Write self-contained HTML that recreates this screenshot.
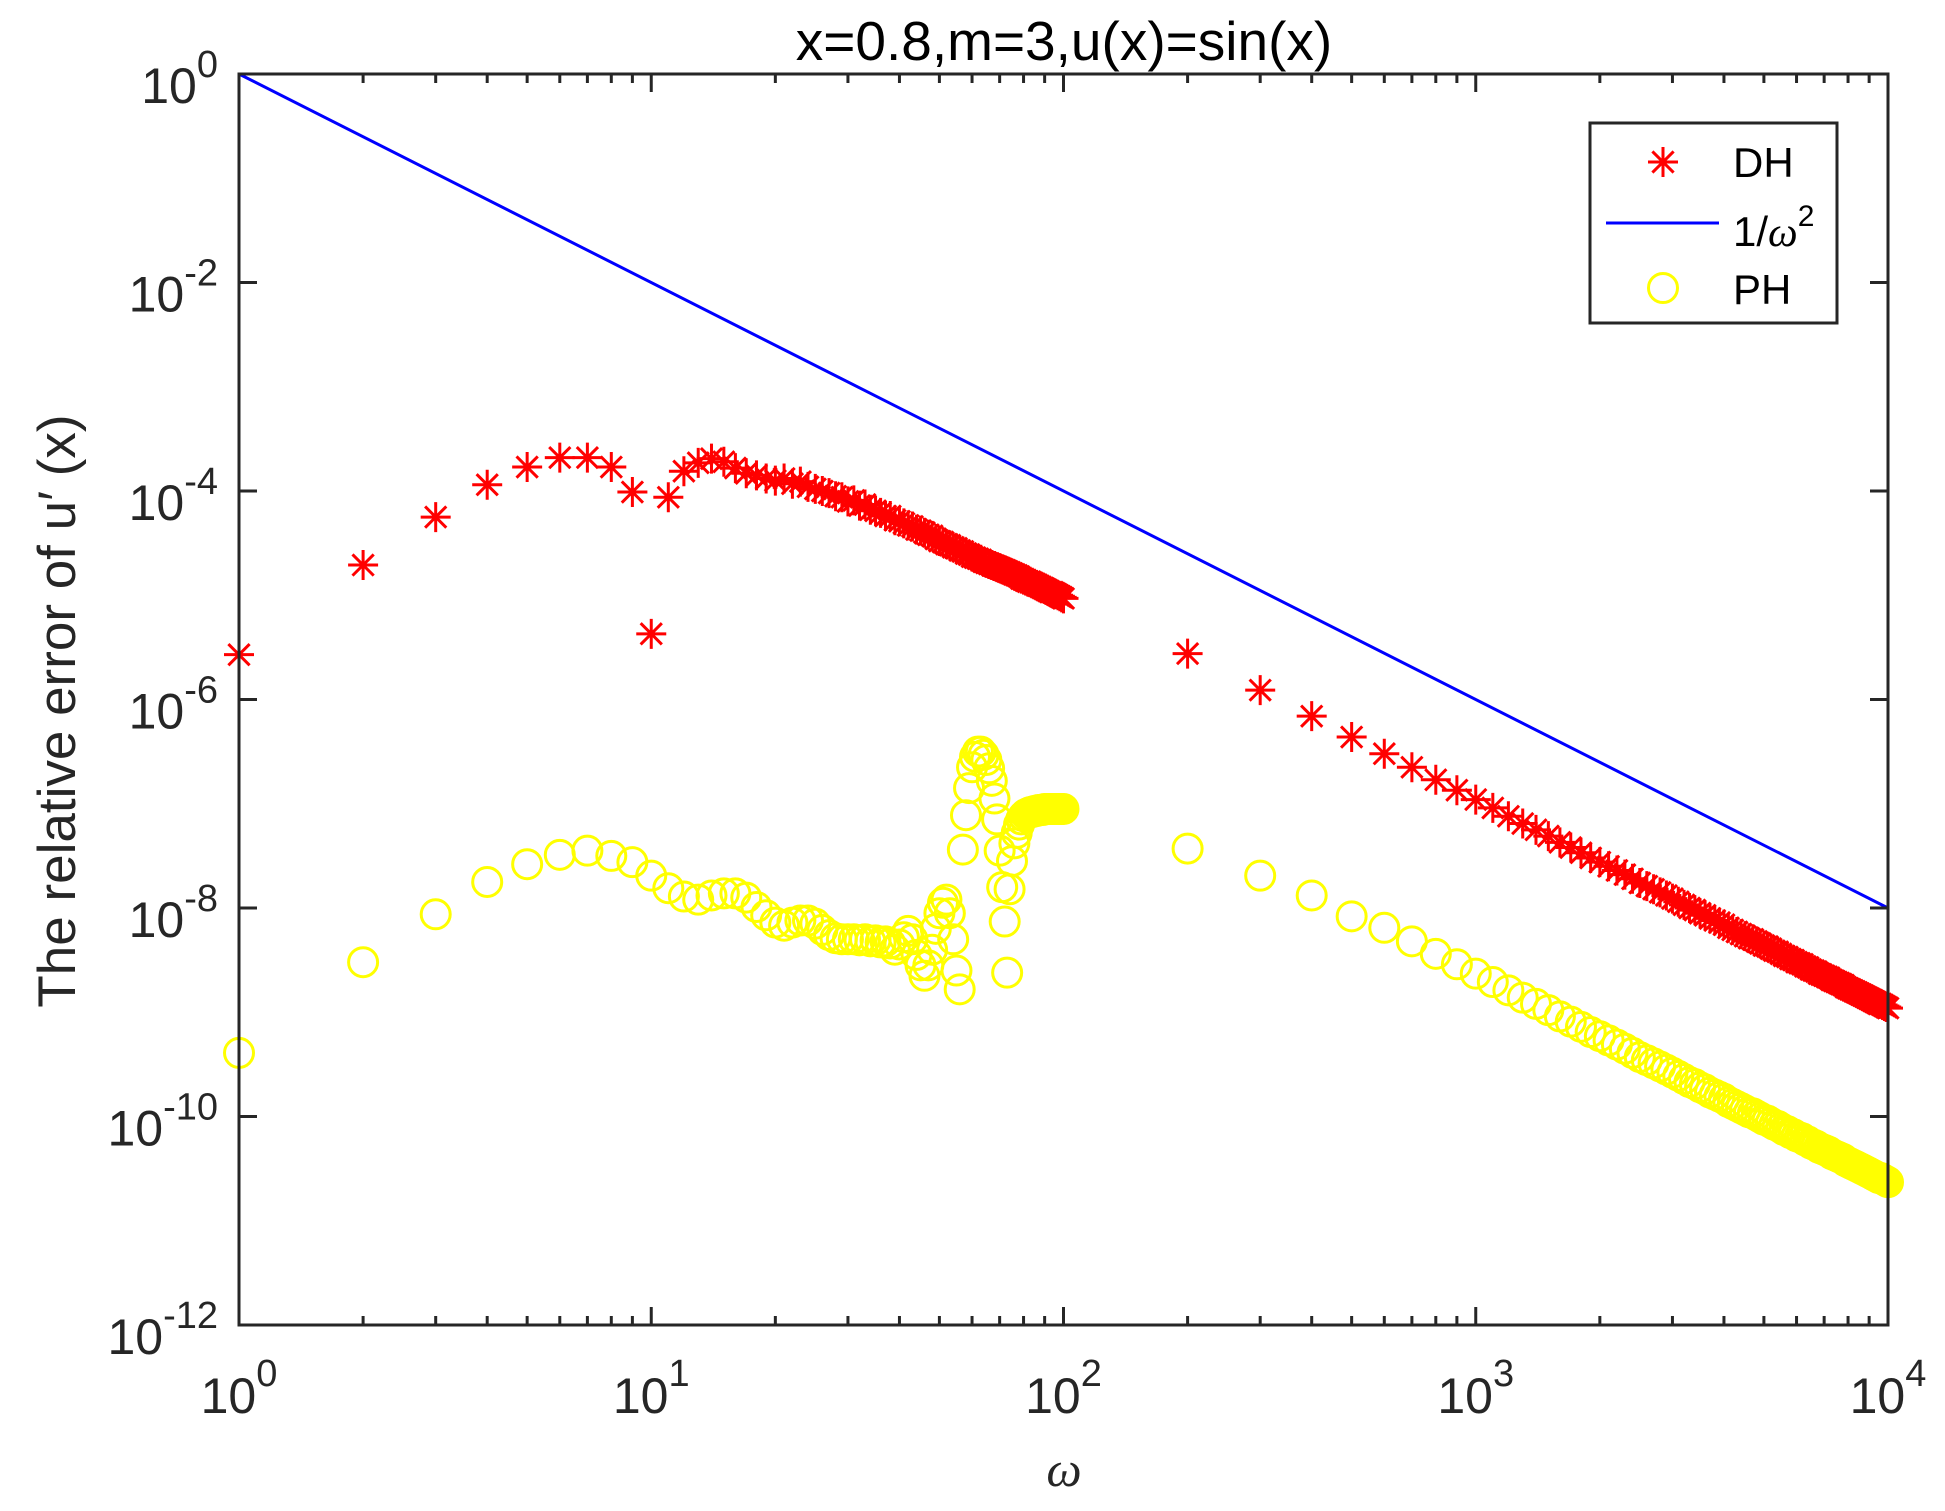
<!DOCTYPE html>
<html><head><meta charset="utf-8"><style>
html,body{margin:0;padding:0;background:#fff;}
svg{display:block;font-family:"Liberation Sans",Arial,sans-serif;}
</style></head><body>
<svg id="chart" width="1945" height="1511" viewBox="0 0 1945 1511" xmlns="http://www.w3.org/2000/svg">
<rect x="0" y="0" width="1945" height="1511" fill="#fff"/>
<text x="1064" y="60" font-size="55" text-anchor="middle" fill="#000">x=0.8,m=3,u(x)=sin(x)</text>
<text transform="translate(75,711) rotate(-90)" font-size="53" text-anchor="middle" fill="#262626">The relative error of u′ (x)</text>
<text x="1064" y="1486" font-size="50" font-style="italic" font-family="Liberation Serif, serif" text-anchor="middle" fill="#262626">ω</text>
<g id="plot"></g>
</svg>
<script>
// ---- data (log10 of values) ----
const xTickExps = [0, 1, 2, 3, 4];
const yTickExps = [0, -2, -4, -6, -8, -10, -12];
const dhEarlyW = [];
for (let i = 1; i <= 100; i++) dhEarlyW.push(i);
const dhEarlyLog = [-5.57,-4.71,-4.25,-3.94,-3.77,-3.68,-3.68,-3.77,-4.01,-5.37,
 -4.06,-3.81,-3.73,-3.69,-3.72,-3.78,-3.83,-3.85,-3.88,-3.90,
 -3.88,-3.93,-3.91,-3.96,-3.98,-4.00,-4.02,-4.05,-4.06,-4.10,
 -4.09,-4.14,-4.13,-4.18,-4.19,-4.21,-4.24,-4.24,-4.28,-4.29,
 -4.31,-4.33,-4.34,-4.37,-4.38,-4.40,-4.42,-4.43,-4.46,-4.48,
 -4.49,-4.51,-4.52,-4.54,-4.55,-4.57,-4.58,-4.60,-4.61,-4.63,
 -4.64,-4.65,-4.66,-4.68,-4.69,-4.70,-4.71,-4.72,-4.73,-4.74,
 -4.75,-4.76,-4.77,-4.78,-4.79,-4.80,-4.81,-4.82,-4.84,-4.85,
 -4.86,-4.87,-4.87,-4.88,-4.89,-4.90,-4.91,-4.92,-4.93,-4.94,
 -4.95,-4.96,-4.97,-4.97,-4.98,-4.99,-5.00,-5.01,-5.02,-5.03];
const lateW = [];
for (let i = 2; i <= 100; i++) lateW.push(i * 100);
const dhLateLog = [-5.56,-5.91,-6.16,-6.36,-6.52,-6.65,-6.77,-6.87,-6.96,
 -7.04,-7.12,-7.19,-7.25,-7.31,-7.37,-7.42,-7.47,-7.52,-7.56,
 -7.60,-7.64,-7.68,-7.72,-7.76,-7.79,-7.82,-7.85,-7.88,-7.91,
 -7.94,-7.97,-8.00,-8.02,-8.05,-8.07,-8.10,-8.12,-8.14,-8.16,
 -8.19,-8.21,-8.23,-8.25,-8.27,-8.29,-8.30,-8.32,-8.34,-8.36,
 -8.37,-8.39,-8.41,-8.42,-8.44,-8.46,-8.47,-8.49,-8.50,-8.52,
 -8.53,-8.54,-8.56,-8.57,-8.59,-8.60,-8.61,-8.63,-8.64,-8.65,
 -8.66,-8.67,-8.69,-8.70,-8.71,-8.72,-8.73,-8.74,-8.76,-8.77,
 -8.78,-8.79,-8.80,-8.81,-8.82,-8.83,-8.84,-8.85,-8.86,-8.87,
 -8.88,-8.89,-8.90,-8.91,-8.92,-8.92,-8.93,-8.94,-8.95,-8.96];
const phEarlyLog = [-9.39,-8.52,-8.06,-7.75,-7.58,-7.49,-7.45,-7.50,-7.56,-7.69,
 -7.81,-7.89,-7.92,-7.88,-7.86,-7.86,-7.90,-7.99,-8.07,-8.14,
 -8.17,-8.14,-8.12,-8.12,-8.15,-8.21,-8.26,-8.29,-8.30,-8.30,
 -8.30,-8.31,-8.30,-8.32,-8.31,-8.33,-8.32,-8.34,-8.40,-8.35,
 -8.28,-8.22,-8.30,-8.45,-8.55,-8.65,-8.55,-8.40,-8.20,-8.05,
 -7.95,-7.92,-8.05,-8.30,-8.60,-8.78,-7.44,-7.11,-6.85,-6.65,
 -6.55,-6.50,-6.50,-6.53,-6.58,-6.66,-6.78,-6.95,-7.15,-7.45,
 -7.80,-8.13,-8.62,-7.82,-7.55,-7.38,-7.28,-7.20,-7.15,-7.12,
 -7.10,-7.09,-7.08,-7.08,-7.07,-7.07,-7.06,-7.06,-7.06,-7.05,
 -7.05,-7.05,-7.05,-7.05,-7.05,-7.05,-7.05,-7.05,-7.05,-7.05];
const phLateLog = [-7.43,-7.69,-7.88,-8.08,-8.19,-8.32,-8.44,-8.54,-8.63,
 -8.71,-8.79,-8.86,-8.92,-8.98,-9.04,-9.09,-9.14,-9.19,-9.23,
 -9.27,-9.31,-9.35,-9.39,-9.43,-9.46,-9.49,-9.52,-9.55,-9.58,
 -9.61,-9.64,-9.67,-9.69,-9.72,-9.74,-9.77,-9.79,-9.81,-9.83,
 -9.86,-9.88,-9.90,-9.92,-9.94,-9.96,-9.97,-9.99,-10.01,-10.03,
 -10.04,-10.06,-10.08,-10.09,-10.11,-10.13,-10.14,-10.16,-10.17,-10.19,
 -10.20,-10.21,-10.23,-10.24,-10.26,-10.27,-10.28,-10.30,-10.31,-10.32,
 -10.33,-10.34,-10.36,-10.37,-10.38,-10.39,-10.40,-10.41,-10.43,-10.44,
 -10.45,-10.46,-10.47,-10.48,-10.49,-10.50,-10.51,-10.52,-10.53,-10.54,
 -10.55,-10.56,-10.57,-10.58,-10.59,-10.59,-10.60,-10.61,-10.62,-10.63];
const refW = [1, 10000];
const refLog = [0, -8];

// ---- axes ----
const L = 239, R = 1888, T = 74, B = 1325;
const xMin = 0, xMax = 4, yMin = -12, yMax = 0;
function xs(w) { return L + (Math.log10(w) - xMin) / (xMax - xMin) * (R - L); }
function ys(lg) { return T + (yMax - lg) / (yMax - yMin) * (B - T); }
const NS = 'http://www.w3.org/2000/svg';
const plot = document.getElementById('plot');
function mk(tag, attrs, parent) {
  const e = document.createElementNS(NS, tag);
  for (const k in attrs) e.setAttribute(k, attrs[k]);
  (parent || plot).appendChild(e);
  return e;
}
const axc = '#262626';

const refG = mk('g', {});


const rl = mk('line', {x1: xs(refW[0]), y1: ys(refLog[0]), x2: xs(refW[1]), y2: ys(refLog[1]), stroke: '#0000ff', 'stroke-width': 3}, refG);



function star(cx, cy, g) {
  const r = 15, d = r * 0.7071;
  const p = mk('path', {d: `M${cx-r},${cy}H${cx+r}M${cx},${cy-r}V${cy+r}M${cx-d},${cy-d}L${cx+d},${cy+d}M${cx-d},${cy+d}L${cx+d},${cy-d}`, stroke: '#ff0000', 'stroke-width': 3, fill: 'none'}, g);
  
  
}
function ring(cx, cy, g) {
  const c = mk('circle', {cx: cx, cy: cy, r: 14.5, stroke: '#ffff00', 'stroke-width': 3, fill: 'none'}, g);
  
  
}
const phG = mk('g', {});


dhEarlyW.forEach((w, i) => ring(xs(w), ys(phEarlyLog[i]), phG));
lateW.forEach((w, i) => ring(xs(w), ys(phLateLog[i]), phG));
const dhG = mk('g', {});


dhEarlyW.forEach((w, i) => star(xs(w), ys(dhEarlyLog[i]), dhG));
lateW.forEach((w, i) => star(xs(w), ys(dhLateLog[i]), dhG));

const box = mk('rect', {x: L, y: T, width: R - L, height: B - T, fill: 'none', stroke: axc, 'stroke-width': 3});


xTickExps.forEach(e => {
  const x = xs(Math.pow(10, e));
  mk('line', {x1: x, y1: B, x2: x, y2: B - 18, stroke: axc, 'stroke-width': 3});
  mk('line', {x1: x, y1: T, x2: x, y2: T + 18, stroke: axc, 'stroke-width': 3});
  if (e < 4) for (let m = 2; m <= 9; m++) {
    const xm = xs(m * Math.pow(10, e));
    mk('line', {x1: xm, y1: B, x2: xm, y2: B - 9, stroke: axc, 'stroke-width': 3});
    mk('line', {x1: xm, y1: T, x2: xm, y2: T + 9, stroke: axc, 'stroke-width': 3});
  }
  const t = mk('text', {x: x, y: 1413, 'font-size': 50, 'text-anchor': 'middle', fill: axc});
  
  
  t.appendChild(document.createTextNode('10'));
  const s = mk('tspan', {dy: -27, 'font-size': 38}, t);
  s.textContent = String(e);
});
yTickExps.forEach(e => {
  const y = ys(e);
  mk('line', {x1: L, y1: y, x2: L + 18, y2: y, stroke: axc, 'stroke-width': 3});
  mk('line', {x1: R, y1: y, x2: R - 18, y2: y, stroke: axc, 'stroke-width': 3});
  const t = mk('text', {x: 218, y: y + 29, 'font-size': 50, 'text-anchor': 'end', fill: axc});
  
  
  t.appendChild(document.createTextNode('10'));
  const s = mk('tspan', {dy: -26, 'font-size': 38}, t);
  s.textContent = String(e);
});

const lg = mk('g', {});


mk('rect', {x: 1590, y: 123, width: 247, height: 200, fill: '#fff', stroke: axc, 'stroke-width': 3}, lg);
star(1663, 162, lg);
const ll = mk('line', {x1: 1606, y1: 223, x2: 1719, y2: 223, stroke: '#0000ff', 'stroke-width': 3}, lg);


ring(1663, 288, lg);
const t1 = mk('text', {x: 1733, y: 177, 'font-size': 42, fill: '#000'}, lg);


t1.textContent = 'DH';
const t2 = mk('text', {x: 1733, y: 246, 'font-size': 42, fill: '#000'}, lg);


t2.appendChild(document.createTextNode('1/'));
const om = mk('tspan', {'font-style': 'italic', 'font-family': 'Liberation Serif, serif'}, t2);
om.textContent = 'ω';
const sq = mk('tspan', {dy: -20, 'font-size': 30}, t2);
sq.textContent = '2';
const t3 = mk('text', {x: 1733, y: 304, 'font-size': 42, fill: '#000'}, lg);


t3.textContent = 'PH';
</script>
</body></html>
